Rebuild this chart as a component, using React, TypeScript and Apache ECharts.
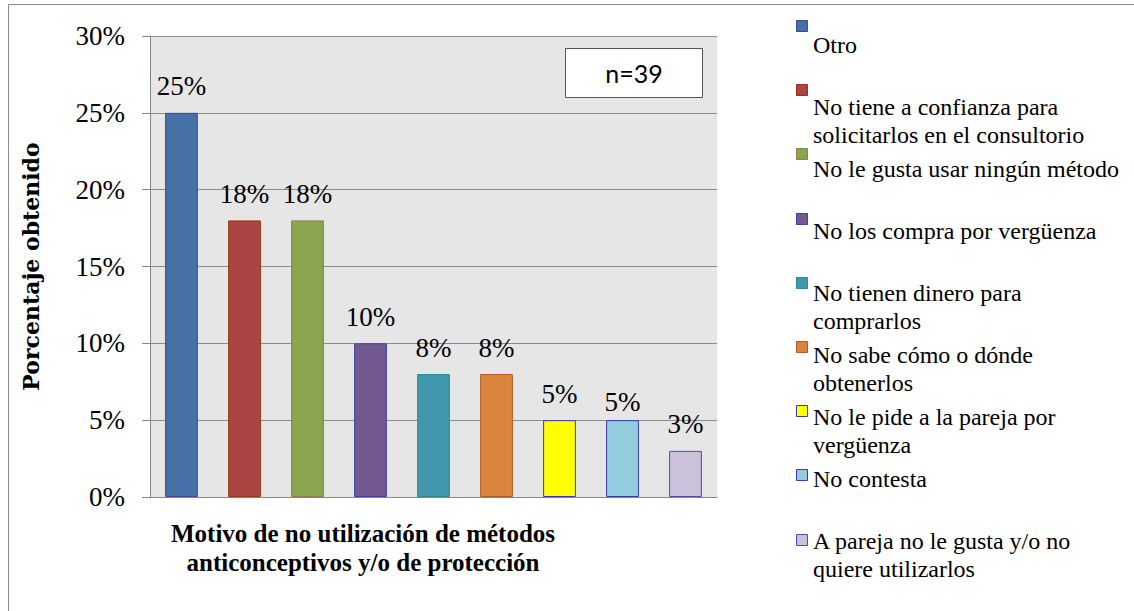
import React, { useEffect, useRef } from "react";
import * as echarts from "echarts";

const categories = [
  "Otro",
  "No tiene a confianza para\nsolicitarlos en el consultorio",
  "No le gusta usar ningún método",
  "No los compra por vergüenza",
  "No tienen dinero para\ncomprarlos",
  "No sabe cómo o dónde\nobtenerlos",
  "No le pide a la pareja por\nvergüenza",
  "No contesta",
  "A pareja no le gusta y/o no\nquiere utilizarlos",
];
const values = [0.25, 0.18, 0.18, 0.1, 0.08, 0.08, 0.05, 0.05, 0.03];
const fillColors = [
  "#4571a6",
  "#a94643",
  "#89a54e",
  "#71588f",
  "#4198ae",
  "#db843d",
  "#ffff00",
  "#93cddd",
  "#ccc1da",
];
const borderColors = [
  "#3a4aa0",
  "#a0330f",
  "#9a7a40",
  "#4040a8",
  "#2a8a98",
  "#b55a1e",
  "#3a3ab0",
  "#3a3ab0",
  "#4a4ab8",
];
const yTitle = "Porcentaje obtenido";
const xTitle = "Motivo de no utilización de métodos\nanticonceptivos y/o de protección";
const sampleNote = "n=39";

const TIMES = "'Liberation Serif', 'Times New Roman', serif";
const SERIF_BOLD = "'DejaVu Serif', serif";
const SANS = "Lato, 'Open Sans', sans-serif";

export default function App() {
  const ref = useRef<HTMLDivElement>(null);
  useEffect(() => {
    document.body.style.margin = "0";
    const chart = echarts.init(ref.current!, null, { renderer: "svg" });
    const pct = (v: number) => Math.round(v * 100) + "%";
    const legendTop = 26;
    const legendStep = 64.2;
    const legendRects: any[] = categories.map((c, i) => {
      const cy = legendTop + i * legendStep;
      return {
        type: "rect",
        shape: { x: 796.5, y: Math.round(cy - 6) + 0.5, width: 11, height: 11 },
        style: { fill: fillColors[i], stroke: borderColors[i], lineWidth: 1 },
        silent: true,
      };
    });
    chart.setOption({
      animation: false,
      backgroundColor: "#ffffff",
      grid: [
        {
          left: 150,
          top: 36,
          width: 567,
          height: 461,
          show: true,
          backgroundColor: "#e6e6e6",
          borderWidth: 0,
          containLabel: false,
        },
        {
          left: 813,
          top: legendTop - legendStep / 2 - 14,
          width: 1,
          height: legendStep * categories.length,
          show: false,
          containLabel: false,
        },
      ],
      xAxis: [
        {
          type: "category",
          gridIndex: 0,
          data: categories.map((c) => c.replace("\n", " ")),
          axisLabel: { show: false },
          axisTick: { show: false },
          axisLine: { show: true, lineStyle: { color: "#868686", width: 1 } },
        },
        {
          type: "value",
          gridIndex: 1,
          show: false,
        },
      ],
      yAxis: [
        {
          type: "value",
          gridIndex: 0,
          min: 0,
          max: 0.3,
          interval: 0.05,
          name: yTitle,
          nameLocation: "middle",
          nameGap: 108,
          nameTextStyle: {
            fontFamily: SERIF_BOLD,
            fontWeight: "bold",
            fontSize: 22,
            color: "#000",
          },
          axisLine: { show: true, lineStyle: { color: "#868686", width: 1 } },
          axisTick: { show: true, length: 8, lineStyle: { color: "#868686" } },
          splitLine: { show: true, lineStyle: { color: "#8c8c8c", width: 1 } },
          axisLabel: {
            formatter: pct,
            fontFamily: TIMES,
            fontSize: 27,
            color: "#000",
            margin: 25,
          },
        },
        {
          type: "category",
          gridIndex: 1,
          inverse: true,
          position: "left",
          data: categories,
          axisLine: { show: false },
          axisTick: { show: false },
          splitLine: { show: false },
          axisLabel: {
            show: true,
            inside: true,
            margin: 0,
            interval: 0,
            align: "left",
            verticalAlign: "top",
            lineHeight: 28,
            fontFamily: TIMES,
            fontSize: 24,
            color: "#000",
          },
        },
      ],
      series: [
        {
          type: "bar",
          xAxisIndex: 0,
          yAxisIndex: 0,
          barWidth: "52%",
          data: values.map((v, i) => ({
            value: v,
            itemStyle: {
              color: fillColors[i],
              borderColor: borderColors[i],
              borderWidth: 1,
            },
            label: i === 7 ? { offset: [0, 8] } : undefined,
          })),
          label: {
            show: true,
            position: "top",
            distance: 13,
            formatter: (p: any) => pct(p.value),
            fontFamily: TIMES,
            fontSize: 27,
            color: "#000",
          },
        },
      ],
      graphic: [
        {
          type: "rect",
          shape: { x: 8.5, y: 4.5, width: 1200, height: 700 },
          style: { fill: "none", stroke: "#8c8c8c", lineWidth: 1 },
          silent: true,
          z: -1,
        },
        {
          type: "rect",
          shape: { x: 565.5, y: 48.5, width: 137, height: 49 },
          style: { fill: "#ffffff", stroke: "#555555", lineWidth: 1 },
          silent: true,
        },
        {
          type: "text",
          x: 634,
          y: 73,
          style: {
            text: sampleNote,
            fontFamily: SANS,
            fontSize: 25,
            fill: "#000",
            align: "center",
            verticalAlign: "middle",
          },
        },
        {
          type: "text",
          x: 363,
          y: 547.5,
          style: {
            text: xTitle,
            fontFamily: TIMES,
            fontWeight: "bold",
            fontSize: 25,
            lineHeight: 29,
            fill: "#000",
            align: "center",
            verticalAlign: "middle",
          },
          silent: true,
        },
        ...legendRects,
      ],
    });
    return () => chart.dispose();
  }, []);
  return <div ref={ref} style={{ width: 1134, height: 611 }} />;
}
